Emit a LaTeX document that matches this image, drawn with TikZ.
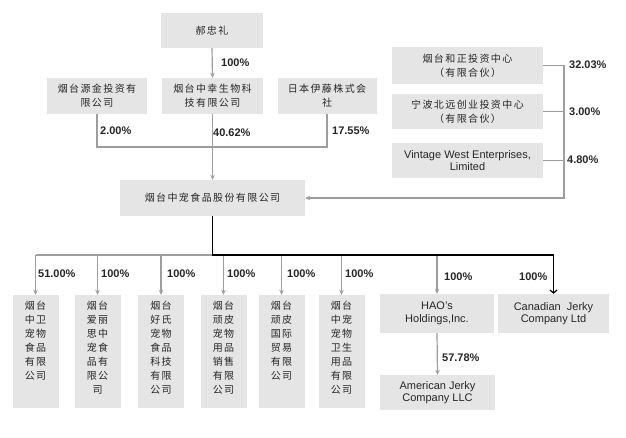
\documentclass[tikz,border=0pt]{standalone}
\usepackage{fontspec}
\setmainfont{Liberation Sans}
\newfontfamily\cjk[LetterSpace=14]{Noto Sans CJK SC}
\usetikzlibrary{arrows.meta}
\definecolor{box gray}{gray}{0.9}
\definecolor{line gray}{gray}{0.62}
\definecolor{ink}{gray}{0.15}
\newcommand\colbox[1]{\parbox[c][100pt][t]{30pt}{\centering #1}}

\tikzset{
	unit/.style = {fill=box gray, inner sep=0pt, align=center, text=ink,
		font={\cjk\fontsize{10}{14}\selectfont}},
	firm/.style = {unit, font={\fontsize{11}{12.5}\selectfont}},
	col/.style = {unit, minimum width=46pt, minimum height=113pt},
	pct/.style = {inner sep=0pt, anchor=west, text=ink,
		font={\bfseries\fontsize{11}{13}\selectfont}},
	gline/.style = {draw=line gray, line width=1.2pt},
	garrow/.style = {gline, -{Stealth[length=5pt,width=4.5pt]}},
	barrow/.style = {draw=black, line width=1.2pt, -{Straight Barb[length=3pt,width=7pt]}}
}

\begin{document}
\begin{tikzpicture}[x=1pt, y=-1pt]
			\useasboundingbox[fill=white] (0,0) rectangle (626,437);
			% owners
			\node[unit, minimum width=102pt, minimum height=35pt] (hao) at (212,30.5) {郝忠礼};
			\node[unit, minimum width=100pt, minimum height=36pt] (yj) at (97,96) {烟台源金投资有\\限公司};
			\node[unit, minimum width=101pt, minimum height=36pt] (zx) at (212.5,96) {烟台中幸生物科\\技有限公司};
			\node[unit, minimum width=99pt, minimum height=36pt] (ry) at (327,96) {日本伊藤株式会\\社};
			\node[unit, minimum width=151pt, minimum height=37pt] (hz) at (467.5,65.5) {烟台和正投资中心\\（有限合伙）};
			\node[unit, minimum width=151pt, minimum height=35pt] (nb) at (467.5,111.5) {宁波北远创业投资中心\\（有限合伙）};
			\node[firm, minimum width=151pt, minimum height=35pt] (vw) at (467.5,160.5) {Vintage West Enterprises,\\Limited};
			% the company
			\node[unit, minimum width=185pt, minimum height=36pt] (main) at (212.5,198) {烟台中宠食品股份有限公司};
			% subsidiaries
			\node[col] (s1) at (35.5,351.5) {\colbox{烟台\\中卫\\宠物\\食品\\有限\\公司}};
			\node[col] (s2) at (97.5,351.5) {\colbox{烟台\\爱丽\\思中\\宠食\\品有\\限公\\司}};
			\node[col] (s3) at (161,351.5) {\colbox{烟台\\好氏\\宠物\\食品\\科技\\有限\\公司}};
			\node[col] (s4) at (223.5,351.5) {\colbox{烟台\\顽皮\\宠物\\用品\\销售\\有限\\公司}};
			\node[col] (s5) at (281.5,351.5) {\colbox{烟台\\顽皮\\国际\\贸易\\有限\\公司}};
			\node[col] (s6) at (341.5,351.5) {\colbox{烟台\\中宠\\宠物\\卫生\\用品\\有限\\公司}};
			\node[firm, minimum width=114pt, minimum height=39pt] (hh) at (437,313.5) {HAO's\\Holdings,Inc.};
			\node[firm, minimum width=111pt, minimum height=39pt] (cj) at (553.5,313.5) {Canadian \ Jerky\\Company Ltd};
			\node[firm, minimum width=115pt, minimum height=35pt] (aj) at (437.5,392.5) {American Jerky\\Company LLC};
			% joints
			\coordinate (mid) at (212,147);
			\coordinate (rbus) at (564,198);
			\coordinate (bus) at (212,255);
			% upper links
			\draw[garrow] (hao.south) -- (zx.north);
			\draw[gline] (yj.south) |- (mid) -| (ry.south);
			\draw[garrow] (zx.south) -- (main.north);
			\draw[garrow] (hz.east) -| (rbus) -- (main.east);
			\draw[gline] (nb.east) -- (nb.east -| rbus);
			\draw[gline] (vw.east) -- (vw.east -| rbus);
			% lower links
			\draw[gline] (bus) -- (bus -| s1.north);
			\draw[garrow] (bus -| s1.north) -- (s1.north);
			\draw[garrow] (bus -| s2.north) -- (s2.north);
			\draw[garrow] (bus -| s3.north) -- (s3.north);
			\draw[garrow] (bus -| s4.north) -- (s4.north);
			\draw[garrow] (bus -| s5.north) -- (s5.north);
			\draw[garrow] (bus -| s6.north) -- (s6.north);
			\draw[garrow] (bus -| hh.north) -- (hh.north);
			\draw[barrow] (main.south) |- (bus -| cj.north) -- (cj.north);
			\draw[garrow] (hh.south) -- (aj.north);
			% shares
			\node[pct] (q0) at (221,63) {100\%};
			\node[pct] (q1) at (100,131) {2.00\%};
			\node[pct] (q2) at (213,133) {40.62\%};
			\node[pct] (q3) at (332,131) {17.55\%};
			\node[pct] (q4) at (569,65) {32.03\%};
			\node[pct] (q5) at (569,112) {3.00\%};
			\node[pct] (q6) at (567,160) {4.80\%};
			\node[pct] (r1) at (38,274) {51.00\%};
			\node[pct] (r2) at (101,274) {100\%};
			\node[pct] (r3) at (167,274) {100\%};
			\node[pct] (r4) at (227,274) {100\%};
			\node[pct] (r5) at (287,274) {100\%};
			\node[pct] (r6) at (345,274) {100\%};
			\node[pct] (r7) at (444,277) {100\%};
			\node[pct] (r8) at (519,277) {100\%};
			\node[pct] (r9) at (442,358) {57.78\%};
		\end{tikzpicture}
\end{document}
